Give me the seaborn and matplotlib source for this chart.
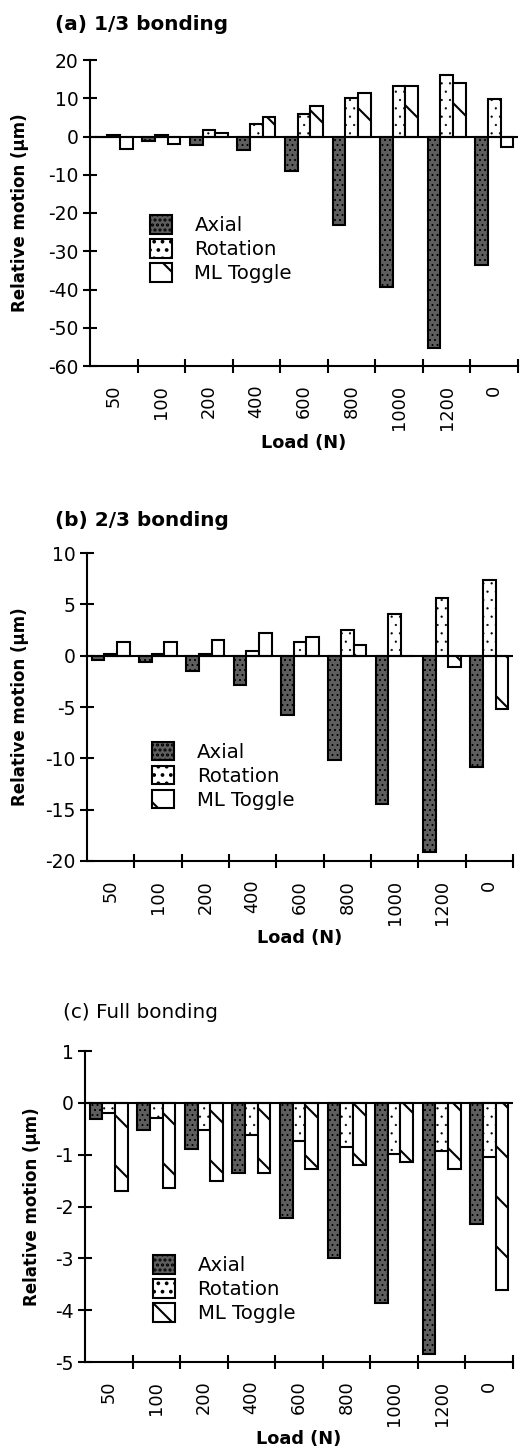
import numpy as np
import pandas as pd
import matplotlib
matplotlib.use("Agg")
import matplotlib.pyplot as plt
import seaborn as sns
from matplotlib.patches import Patch

# ---------------- data ----------------
loads = ["50", "100", "200", "400", "600", "800", "1000", "1200", "0"]
series = ["Axial", "Rotation", "ML Toggle"]

a_axial = [0.0, -1.2, -2.2, -3.4, -9.0, -23.2, -39.3, -55.2, -33.7]
a_rotation = [0.5, 0.4, 1.8, 3.2, 5.8, 10.0, 13.3, 16.2, 9.8]
a_ml = [-3.2, -2.0, 1.0, 5.2, 8.0, 11.5, 13.3, 14.0, -2.8]

b_axial = [-0.4, -0.65, -1.45, -2.9, -5.8, -10.2, -14.4, -19.1, -10.8]
b_rotation = [0.2, 0.2, 0.2, 0.5, 1.3, 2.5, 4.05, 5.6, 7.35]
b_ml = [1.3, 1.3, 1.5, 2.25, 1.8, 1.0, 0.0, -1.15, -5.2]

c_axial = [-0.32, -0.53, -0.9, -1.35, -2.23, -2.99, -3.86, -4.84, -2.34]
c_rotation = [-0.19, -0.3, -0.53, -0.62, -0.73, -0.85, -0.98, -0.92, -1.04]
c_ml = [-1.7, -1.65, -1.51, -1.35, -1.27, -1.2, -1.14, -1.27, -3.62]

titles = ["(a) 1/3 bonding", "(b) 2/3 bonding", "(c) Full bonding"]
ylims = [(-60, 20), (-20, 10), (-5, 1)]
ysteps = [10, 5, 1]
ylabel = "Relative motion (\u00b5m)"
xlabel = "Load (N)"

# ---------------- style ----------------
sns.set_style("ticks")
plt.rcParams["font.family"] = ["DejaVu Sans"]
plt.rcParams["hatch.linewidth"] = 1.0
plt.rcParams["axes.unicode_minus"] = False
for key in ["text.color", "axes.labelcolor", "xtick.color", "ytick.color",
            "axes.edgecolor", "xtick.labelcolor", "ytick.labelcolor"]:
    plt.rcParams[key] = "black"

W, H, DPI = 530, 1453, 150
fig = plt.figure(figsize=(W / DPI, H / DPI), dpi=DPI)
fig.patch.set_facecolor("white")

# axes rectangles in pixels: left, right, top, bottom
rects = [(90, 518, 60, 366), (87, 513, 553, 861), (85, 513, 1051, 1362)]
title_pos = [(55, 25, "bold"), (55, 521, "bold"), (63, 1012, "normal")]
ylabel_x = [20, 20, 32]
legend_anchor = [(0.14, 0.493), (0.153, 0.387), (0.159, 0.343)]

styles = {
    "Axial": dict(facecolor="#5e5e5e", hatch="....."),
    "Rotation": dict(facecolor="white", hatch="..."),
    "ML Toggle": dict(facecolor="white", hatch="\\"),
}

panels = [(a_axial, a_rotation, a_ml), (b_axial, b_rotation, b_ml), (c_axial, c_rotation, c_ml)]

for i, vals in enumerate(panels):
    l, r, t, b = rects[i]
    ax = fig.add_axes([l / W, 1 - b / H, (r - l) / W, (b - t) / H])
    df = pd.DataFrame({
        "Load": loads * 3,
        "Type": sum([[s] * len(loads) for s in series], []),
        "value": list(vals[0]) + list(vals[1]) + list(vals[2]),
    })
    sns.barplot(data=df, x="Load", y="value", hue="Type", order=loads,
                hue_order=series, width=0.8, legend=False, ax=ax,
                edgecolor="black", linewidth=1.0, saturation=1)
    for cont, s in zip(ax.containers, series):
        for p in cont:
            p.set_facecolor(styles[s]["facecolor"])
            p.set_hatch(styles[s]["hatch"])
            p.set_edgecolor("black")
            if s == "Rotation" and hasattr(p, "set_hatch_linewidth"):
                p.set_hatch_linewidth(0.25)
            if s == "Axial" and hasattr(p, "set_hatch_linewidth"):
                p.set_hatch_linewidth(0.5)

    ax.axhline(0, color="black", lw=1.0, zorder=5)
    ax.set_xlim(-0.5, len(loads) - 0.5)
    ax.set_ylim(*ylims[i])
    ax.set_yticks(np.arange(ylims[i][0], ylims[i][1] + 0.001, ysteps[i]))
    ax.set_xticks(range(len(loads)))
    ax.set_xticklabels(loads, rotation=90)
    ax.set_xticks(np.arange(0.5, len(loads), 1.0), minor=True)
    ax.tick_params(axis="x", which="major", length=0, pad=9, labelsize=8.5)
    ax.tick_params(axis="x", which="minor", direction="inout", length=7, width=1.0)
    ax.tick_params(axis="y", direction="inout", length=7, width=1.0, pad=2, labelsize=9)
    ax.set_xlabel("")
    ax.set_ylabel("")
    for sp in ["top", "right"]:
        ax.spines[sp].set_visible(False)
    for sp in ["left", "bottom"]:
        ax.spines[sp].set_linewidth(1.0)
        ax.spines[sp].set_color("black")

    handles = [Patch(facecolor=styles[s]["facecolor"], edgecolor="black",
                     hatch=styles[s]["hatch"], linewidth=1.0) for s in series]
    ax.legend(handles, series, loc="upper left", bbox_to_anchor=legend_anchor[i],
              frameon=False, fontsize=9.5, handlelength=1.1, handleheight=1.06,
              labelspacing=0.2, handletextpad=1.15, borderpad=0, borderaxespad=0)

    tx, ty, tw = title_pos[i]
    fig.text(tx / W, 1 - ty / H, titles[i], fontsize=9.6, fontweight=tw,
             ha="left", va="center")
    fig.text(ylabel_x[i] / W, 1 - ((t + b) / 2) / H, ylabel, rotation=90,
             fontsize=8, fontweight="bold", ha="center", va="center")
    fig.text(((l + r) / 2) / W, 1 - (b + 77) / H, xlabel, fontsize=8.5,
             fontweight="bold", ha="center", va="center")

fig.savefig("out.png", dpi=DPI, facecolor="white")
